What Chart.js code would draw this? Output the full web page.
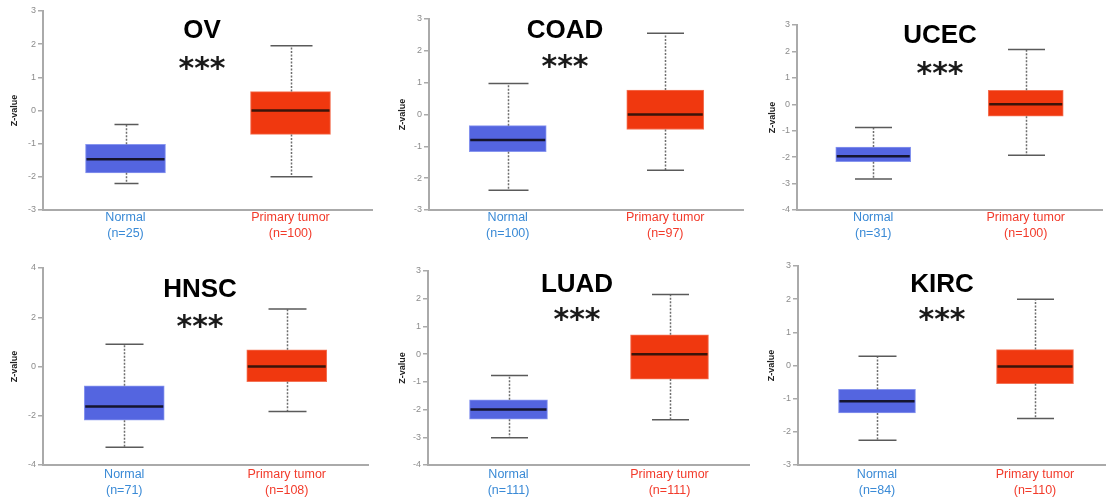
<!DOCTYPE html>
<html>
<head>
<meta charset="utf-8">
<title>Z-value boxplots</title>
<script src="https://cdn.jsdelivr.net/npm/chart.js@4.4.1/dist/chart.umd.min.js"></script>
<style>
    body { margin: 0; background: #fff; }
    #wrap { position: relative; width: 1106px; height: 499px; overflow: hidden; }
    #wrap canvas { position: absolute; }
</style>
</head>
<body>
<div id="wrap"></div>
<script>
// data
const cancers = ['OV', 'COAD', 'UCEC', 'HNSC', 'LUAD', 'KIRC'];
const groups = ['Normal', 'Primary tumor'];
const normalN = [25, 100, 31, 71, 111, 84];
const tumorN = [100, 97, 100, 108, 111, 110];
const significance = ['***', '***', '***', '***', '***', '***'];

const normalMin = [-2.2, -2.38, -2.83, -3.28, -3.02, -2.25];
const normalQ1 = [-1.88, -1.17, -2.17, -2.18, -2.35, -1.43];
const normalMedian = [-1.47, -0.8, -1.97, -1.62, -2.0, -1.08];
const normalQ3 = [-1.02, -0.35, -1.62, -0.78, -1.65, -0.72];
const normalMax = [-0.42, 0.97, -0.88, 0.9, -0.77, 0.28];

const tumorMin = [-2.0, -1.75, -1.93, -1.83, -2.37, -1.6];
const tumorQ1 = [-0.72, -0.47, -0.45, -0.62, -0.9, -0.55];
const tumorMedian = [0.0, 0.0, 0.0, 0.0, 0.0, -0.03];
const tumorQ3 = [0.57, 0.77, 0.53, 0.68, 0.7, 0.48];
const tumorMax = [1.95, 2.55, 2.07, 2.33, 2.15, 2.0];

// y axis ticks
const yMin = [-3, -3, -4, -4, -4, -3];
const yMax = [3, 3, 3, 4, 3, 3];
const yStep = [1, 1, 1, 2, 1, 1];

// where each panel sits and where its plot area goes inside it
const panels = [
    {x: 0, y: 0, w: 373, h: 248, left: 43, top: 11, right: 0, bottom: 210, titleX: 202, titleY: 28, starY: 61, zX: 15, boxW: 80, caps: [24, 42], labelPad: 0},
    {x: 370, y: 0, w: 374, h: 248, left: 59, top: 19, right: 0, bottom: 210, titleX: 195, titleY: 28, starY: 59, zX: 33, boxW: 77, caps: [40, 37], labelPad: 0},
    {x: 740, y: 0, w: 366, h: 248, left: 57, top: 25, right: 4, bottom: 210, titleX: 200, titleY: 33, starY: 66, zX: 33, boxW: 75, caps: [37, 37], labelPad: 0},
    {x: 0, y: 250, w: 370, h: 249, left: 43, top: 18, right: 2, bottom: 215, titleX: 200, titleY: 37, starY: 69, zX: 15, boxW: 80, caps: [38, 38], labelPad: 2},
    {x: 370, y: 250, w: 380, h: 249, left: 58, top: 21, right: 0, bottom: 215, titleX: 207, titleY: 32, starY: 62, zX: 33, boxW: 78, caps: [37, 37], labelPad: 2},
    {x: 740, y: 250, w: 374, h: 249, left: 58, top: 16, right: 0, bottom: 215, titleX: 202, titleY: 32, starY: 62, zX: 32, boxW: 77, caps: [38, 37], labelPad: 2}
];

const boxFill = ['#5465e0', '#f0380f'];
const boxEdge = ['#8896ef', '#f47356'];
const medianColor = ['#15152e', '#3a140a'];
const labelColor = ['#3a8ad6', '#f23b2b'];
const axisGray = '#aaaaaa';

// whiskers, medians, and the big title + stars
const boxExtras = {
    id: 'boxExtras',
    afterDatasetsDraw(chart, args, opts) {
        const ctx = chart.ctx;
        const y = chart.scales.y;
        const meta = chart.getDatasetMeta(0);

        opts.stats.forEach((s, i) => {
            const bar = meta.data[i];
            const x = Math.round(bar.x) + 0.5;
            const half = bar.width / 2;
            ctx.save();

            ctx.strokeStyle = '#6e6e6e';
            ctx.lineWidth = 1.5;
            ctx.setLineDash([2, 1.5]);
            ctx.beginPath();
            ctx.moveTo(x, y.getPixelForValue(s.q3));
            ctx.lineTo(x, y.getPixelForValue(s.max));
            ctx.moveTo(x, y.getPixelForValue(s.q1));
            ctx.lineTo(x, y.getPixelForValue(s.min));
            ctx.stroke();
            ctx.setLineDash([]);

            const cw = opts.caps[i] / 2;
            ctx.strokeStyle = '#5a5a5a';
            ctx.beginPath();
            ctx.moveTo(x - cw, y.getPixelForValue(s.max));
            ctx.lineTo(x + cw, y.getPixelForValue(s.max));
            ctx.moveTo(x - cw, y.getPixelForValue(s.min));
            ctx.lineTo(x + cw, y.getPixelForValue(s.min));
            ctx.stroke();

            ctx.strokeStyle = medianColor[i];
            ctx.lineWidth = 2.5;
            ctx.beginPath();
            ctx.moveTo(bar.x - half + 1, y.getPixelForValue(s.median));
            ctx.lineTo(bar.x + half - 1, y.getPixelForValue(s.median));
            ctx.stroke();
            ctx.restore();
        });

        ctx.save();
        ctx.fillStyle = '#000';
        ctx.textAlign = 'center';
        ctx.textBaseline = 'alphabetic';
        ctx.font = 'bold 26px "Liberation Sans", Arial, sans-serif';
        ctx.fillText(opts.title, opts.titleX, opts.titleY + 9.5);
        ctx.fillStyle = '#1a1a1a';
        ctx.font = 'bold 30px "DejaVu Sans", sans-serif';
        ctx.fillText(opts.stars, opts.titleX, opts.starY + 17);
        ctx.restore();
    }
};

const wrap = document.querySelector('#wrap');

cancers.forEach((name, k) => {
    const p = panels[k];
    const canvas = document.createElement('canvas');
    canvas.width = p.w;
    canvas.height = p.h;
    canvas.style.left = p.x + 'px';
    canvas.style.top = p.y + 'px';
    wrap.appendChild(canvas);

    const stats = [
        {min: normalMin[k], q1: normalQ1[k], median: normalMedian[k], q3: normalQ3[k], max: normalMax[k]},
        {min: tumorMin[k], q1: tumorQ1[k], median: tumorMedian[k], q3: tumorQ3[k], max: tumorMax[k]}
    ];

    new Chart(canvas.getContext('2d'), {
        type: 'bar',
        data: {
            labels: [[groups[0], '(n=' + normalN[k] + ')'], [groups[1], '(n=' + tumorN[k] + ')']],
            datasets: [{
                data: stats.map(s => [s.q1, s.q3]),
                backgroundColor: boxFill,
                borderColor: boxEdge,
                borderWidth: 1,
                borderSkipped: false,
                barThickness: p.boxW
            }]
        },
        options: {
            responsive: false,
            animation: false,
            layout: { padding: { left: 0, top: p.top, right: p.right, bottom: 0 } },
            plugins: {
                legend: { display: false },
                tooltip: { enabled: false },
                boxExtras: {
                    stats: stats,
                    caps: p.caps,
                    title: name,
                    stars: significance[k],
                    titleX: p.titleX,
                    titleY: p.titleY,
                    starY: p.starY
                }
            },
            scales: {
                x: {
                    afterFit: (scale) => { scale.height = p.h - p.bottom; },
                    grid: { drawOnChartArea: false, drawTicks: false },
                    border: { color: axisGray, width: 2 },
                    ticks: {
                        padding: p.labelPad,
                        color: (c) => labelColor[c.index],
                        font: { family: '"Liberation Sans", Arial, sans-serif', size: 12.5, lineHeight: 1.25 }
                    }
                },
                y: {
                    min: yMin[k],
                    max: yMax[k],
                    afterFit: (scale) => { scale.width = p.left; },
                    grid: { drawOnChartArea: false, tickLength: 5, color: axisGray, lineWidth: 1.5 },
                    border: { color: axisGray, width: 2 },
                    ticks: {
                        stepSize: yStep[k],
                        padding: 2,
                        color: '#8c8c8c',
                        font: { family: '"Liberation Sans", Arial, sans-serif', size: 9 }
                    },
                    title: {
                        display: true,
                        text: 'Z-value',
                        color: '#222',
                        padding: { top: p.zX - 5.4, bottom: 0 },
                        font: { family: '"Liberation Sans", Arial, sans-serif', size: 9, weight: 'bold' }
                    }
                }
            }
        },
        plugins: [boxExtras]
    });
});
</script>
</body>
</html>
